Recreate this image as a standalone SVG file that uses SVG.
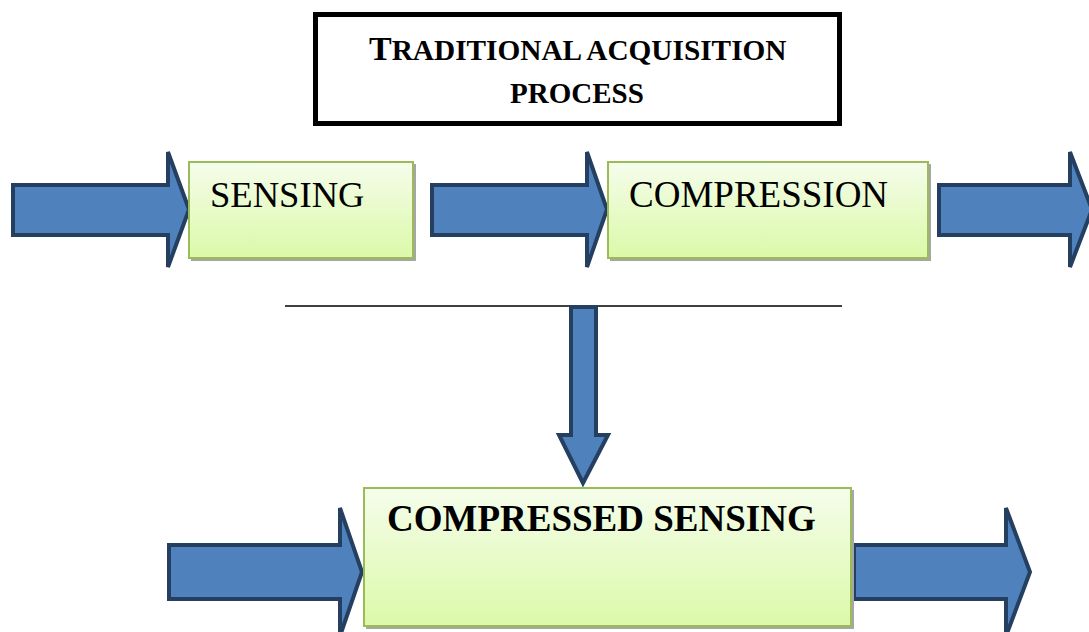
<svg xmlns="http://www.w3.org/2000/svg" width="1089" height="632" viewBox="0 0 1089 632">
<style>
.box{fill:url(#g);stroke:#9bbb59;stroke-width:2}
.shadow{fill:#a6a6a6}
.arrow{fill:#4f81bd;stroke:#243f60;stroke-width:4;stroke-linejoin:miter}
.lbl{font-family:"Liberation Serif","Times New Roman",serif;fill:#000}
.b{font-weight:bold}
</style>
<defs>
<linearGradient id="g" x1="0" y1="0" x2="0" y2="1">
<stop offset="0" stop-color="#f5fdeb"/>
<stop offset="1" stop-color="#dbf9a8"/>
</linearGradient>
</defs>
<rect width="1089" height="632" fill="#fff"/>
<g id="connectors">
<line x1="285" y1="306" x2="842" y2="306" stroke="#000" stroke-width="1.5"/>
<polygon class="arrow" points="13,185 168,185 168,152 189,209.5 168,267 168,235 13,235"/>
<polygon class="arrow" points="432,185 587,185 587,152 607,209.5 587,267 587,235 432,235"/>
<polygon class="arrow" points="939,185 1070,185 1070,152 1092,209.5 1070,267 1070,235 939,235"/>
<polygon class="arrow" points="571,307 596,307 596,435 608,435 583,483 559,435 571,435"/>
<polygon class="arrow" points="169,545 340,545 340,508 362,572 340,636 340,599 169,599"/>
<polygon class="arrow" points="854,545 1006,545 1006,508 1030,572 1006,636 1006,599 854,599"/>
</g>
<g id="title">
<rect x="315.5" y="14.5" width="524" height="109" fill="#fff" stroke="#000" stroke-width="5"/>
<text class="lbl b" x="369" y="60" font-size="29.3"><tspan font-size="34">T</tspan>RADITIONAL ACQUISITION</text>
<text class="lbl b" x="577" y="103" font-size="29" text-anchor="middle">PROCESS</text>
</g>
<g id="sensing">
<rect class="shadow" x="191" y="164" width="225" height="97"/>
<rect class="box" x="189" y="162" width="224" height="96"/>
<text class="lbl" x="210" y="207" font-size="36.6">SENSING</text>
</g>
<g id="compression">
<rect class="shadow" x="610" y="164" width="321" height="97"/>
<rect class="box" x="608" y="162" width="320" height="96"/>
<text class="lbl" x="629" y="207" font-size="37">COMPRESSION</text>
</g>
<g id="compressed-sensing">
<rect class="shadow" x="366" y="490" width="488" height="139"/>
<rect class="box" x="364" y="488" width="487" height="138"/>
<text class="lbl b" x="387" y="531" font-size="37">COMPRESSED SENSING</text>
</g>
</svg>
